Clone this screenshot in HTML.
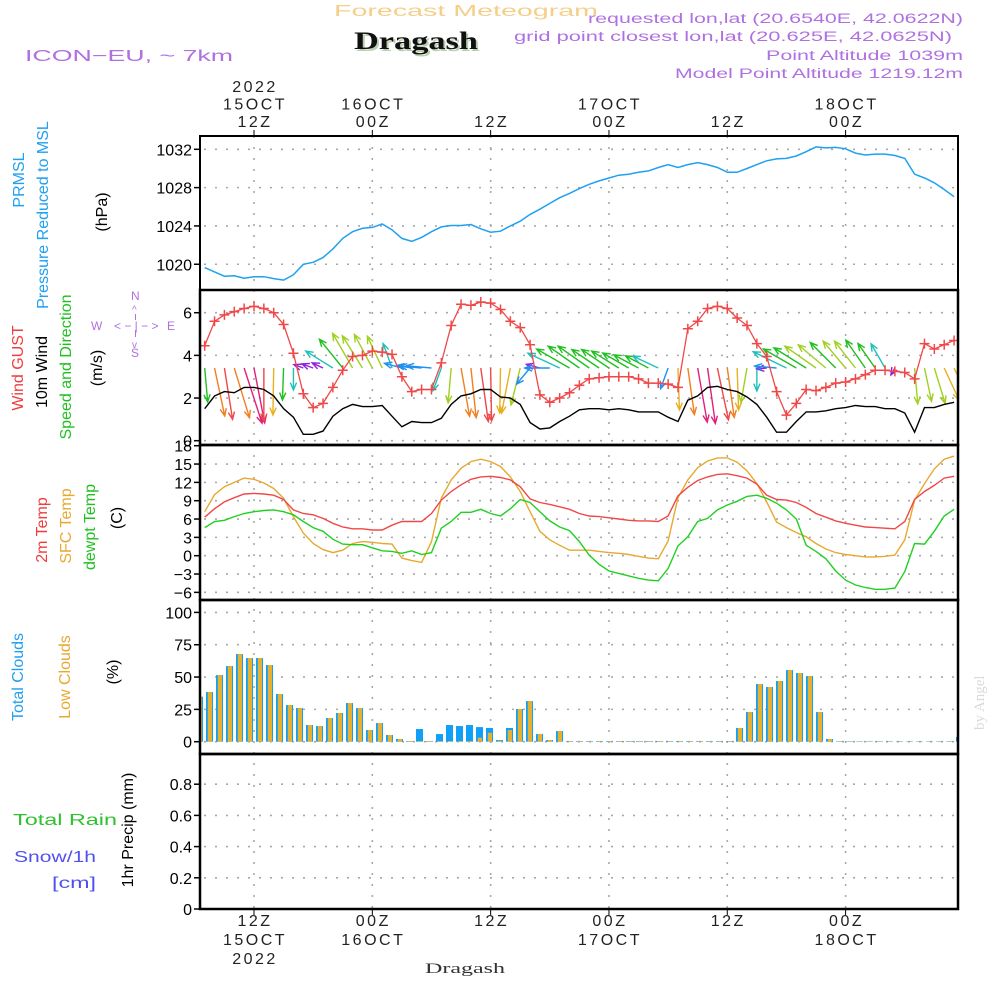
<!DOCTYPE html>
<html><head><meta charset="utf-8"><title>Meteogram Dragash</title>
<style>
html,body{margin:0;padding:0;background:#fff;}
svg{display:block;font-family:"Liberation Sans",sans-serif;}
</style></head>
<body>
<svg id="chart" width="1000" height="1000" viewBox="0 0 1000 1000" xmlns="http://www.w3.org/2000/svg">
<rect x="0" y="0" width="1000" height="1000" fill="#fff"/>
<text x="334" y="16" font-size="16" fill="#f5cf8a" textLength="264" lengthAdjust="spacingAndGlyphs">Forecast Meteogram</text>
<text x="356" y="51" font-size="25" font-weight="bold" font-family="Liberation Serif, serif" fill="#b8d0b0" textLength="124" lengthAdjust="spacingAndGlyphs">Dragash</text>
<text x="354" y="49" font-size="25" font-weight="bold" font-family="Liberation Serif, serif" fill="#111" textLength="124" lengthAdjust="spacingAndGlyphs">Dragash</text>
<text x="25" y="61" font-size="16" fill="#b070e0" textLength="208" lengthAdjust="spacingAndGlyphs">ICON−EU, ~ 7km</text>
<g fill="#b070e0" font-size="13.5">
<text x="588" y="23" textLength="375" lengthAdjust="spacingAndGlyphs">requested lon,lat (20.6540E, 42.0622N)</text>
<text x="514" y="41" textLength="438" lengthAdjust="spacingAndGlyphs">grid point closest lon,lat (20.625E, 42.0625N)</text>
<text x="766" y="60" textLength="197" lengthAdjust="spacingAndGlyphs">Point Altitude 1039m</text>
<text x="675" y="78" textLength="288" lengthAdjust="spacingAndGlyphs">Model Point Altitude 1219.12m</text>
</g>
<text transform="translate(984,730) rotate(-90)" font-size="15" font-family="Liberation Serif, serif" fill="#d8dcd8">by Angel</text>

<g font-size="16">
<text transform="translate(24,180) rotate(-90)" text-anchor="middle" fill="#20a0f0">PRMSL</text>
<text transform="translate(48,215) rotate(-90)" text-anchor="middle" fill="#20a0f0">Pressure Reduced to MSL</text>
<text transform="translate(107,212) rotate(-90)" text-anchor="middle" fill="#000">(hPa)</text>
<text transform="translate(23,368) rotate(-90)" text-anchor="middle" fill="#f03c3c">Wind GUST</text>
<text transform="translate(47,372) rotate(-90)" text-anchor="middle" fill="#000">10m Wind</text>
<text transform="translate(71,367) rotate(-90)" text-anchor="middle" fill="#20c020">Speed and Direction</text>
<text transform="translate(102,368) rotate(-90)" text-anchor="middle" fill="#000">(m/s)</text>
<text transform="translate(47,530) rotate(-90)" text-anchor="middle" fill="#f03c3c">2m Temp</text>
<text transform="translate(71,526) rotate(-90)" text-anchor="middle" fill="#e8a830">SFC Temp</text>
<text transform="translate(95,527) rotate(-90)" text-anchor="middle" fill="#20c020">dewpt Temp</text>
<text transform="translate(122,518) rotate(-90)" text-anchor="middle" fill="#000">(C)</text>
<text transform="translate(23,677) rotate(-90)" text-anchor="middle" fill="#20a0f0">Total Clouds</text>
<text transform="translate(70,677) rotate(-90)" text-anchor="middle" fill="#e8a830">Low Clouds</text>
<text transform="translate(118,672) rotate(-90)" text-anchor="middle" fill="#000">(%)</text>
<text x="13" y="825" fill="#30c030" textLength="104" lengthAdjust="spacingAndGlyphs">Total    Rain</text>
<text x="14" y="862" fill="#5050f0" textLength="82" lengthAdjust="spacingAndGlyphs">Snow/1h</text>
<text x="52" y="888" fill="#5050f0" textLength="44" lengthAdjust="spacingAndGlyphs">[cm]</text>
<text transform="translate(133,830) rotate(-90)" text-anchor="middle" fill="#000">1hr Precip (mm)</text>
</g>
<g fill="#b070e0" stroke="none" font-size="12">
<text x="131" y="300">N</text><text x="131" y="357">S</text>
<text x="91" y="330">W</text><text x="167" y="330">E</text>
<text x="114" y="330" font-size="12">&lt; − | − &gt;</text>
<text x="132" y="313" font-size="10">^</text><text x="132" y="348" font-size="10">v</text>
<line x1="135.5" y1="314" x2="135.5" y2="320" stroke="#b070e0"/><line x1="135.5" y1="330" x2="135.5" y2="337" stroke="#b070e0"/>
</g>
<g id="plots"></g>
<text x="425" y="973" font-size="15" font-family="Liberation Serif, serif" fill="#333" textLength="80" lengthAdjust="spacingAndGlyphs">Dragash</text>
</svg>
<script>
const hours = [];
for (let h = 7; h <= 83; h++) hours.push(h);
const pressure = [1019.65,1019.2,1018.75,1018.8,1018.55,1018.7,1018.7,1018.5,1018.35,1018.9,1020.0,1020.2,1020.7,1021.6,1022.7,1023.4,1023.75,1023.85,1024.2,1023.6,1022.7,1022.4,1022.8,1023.4,1023.9,1024.05,1024.05,1024.15,1023.7,1023.35,1023.45,1024.0,1024.5,1025.2,1025.75,1026.35,1026.95,1027.4,1027.9,1028.35,1028.7,1029.0,1029.3,1029.4,1029.6,1029.75,1030.1,1030.4,1030.1,1030.4,1030.6,1030.4,1030.1,1029.6,1029.6,1030.0,1030.4,1030.8,1031.0,1031.05,1031.3,1031.75,1032.25,1032.15,1032.2,1032.05,1031.6,1031.4,1031.5,1031.5,1031.35,1031.05,1029.4,1029.0,1028.5,1027.8,1027.05];
const gust = [4.45,5.6,5.9,6.05,6.2,6.3,6.2,6.0,5.45,4.1,2.2,1.55,1.75,2.5,3.3,3.95,4.0,4.2,4.15,4.05,3.0,2.3,2.4,2.4,3.65,5.4,6.4,6.35,6.5,6.45,6.15,5.6,5.3,4.5,2.15,1.8,2.0,2.25,2.6,2.9,2.95,3.0,3.0,3.0,2.9,2.7,2.7,2.65,2.5,5.25,5.6,6.2,6.3,6.2,5.75,5.4,4.55,3.95,2.3,1.2,1.75,2.4,2.35,2.5,2.7,2.75,2.9,3.1,3.3,3.3,3.25,3.2,2.9,4.55,4.3,4.5,4.7];
const wind10m = [1.5,2.1,2.3,2.25,2.5,2.5,2.4,2.1,1.5,1.1,0.3,0.3,0.45,1.15,1.5,1.7,1.6,1.6,1.65,1.15,0.65,0.9,0.85,0.85,1.05,1.7,2.1,2.2,2.4,2.4,2.05,2.0,1.7,0.85,0.55,0.6,0.9,1.15,1.45,1.5,1.5,1.45,1.5,1.45,1.35,1.35,1.35,1.1,0.9,1.9,2.1,2.5,2.55,2.4,2.3,2.05,1.7,1.1,0.4,0.4,0.9,1.35,1.35,1.4,1.5,1.55,1.65,1.6,1.6,1.5,1.5,1.3,0.4,1.55,1.55,1.7,1.8];
const windDir = [175,168,171,163,162,169,180,181,182,180,290,290,295,302,321,330,328,332,335,340,285,280,275,275,200,185,170,174,172,179,181,191,194,220,285,270,295,300,305,305,304,304,302,300,298,298,295,200,178,172,170,172,168,172,178,190,180,265,275,296,300,302,305,310,315,320,322,325,325,330,210,0,175,168,163,155,155];
const windLen = [34,49,52,52,58,56,53,47,32,22,10,12,12,32,37,40,38,38,35,26,18,15,22,25,24,35,49,50,54,53,45,46,38,21,14,25,35,38,38,38,33,33,32,30,28,26,28,22,42,47,55,56,53,50,42,35,23,10,22,37,38,38,38,36,36,35,34,34,30,28,8,0,36,34,37,35,33];
const windCol = ["g","o","r","o","m","m","r","y","g","c","p","p","p","c","g","l","l","l","l","c","b","b","b","b","c","l","o","o","r","r","y","y","l","b","p","b","c","g","g","g","g","g","g","g","g","g","c","b","y","o","m","m","r","o","y","l","c","p","b","c","g","g","l","l","g","l","l","g","g","c","p","g","l","l","l","y","y"];
const temp2m = [6.3,7.7,8.8,9.5,10.1,10.2,10.1,9.9,9.2,7.5,6.9,6.7,6.1,5.3,4.7,4.4,4.4,4.2,4.2,5.0,5.6,5.6,5.6,6.9,9.1,10.5,11.6,12.5,12.9,13.0,12.8,12.4,11.3,9.3,8.7,8.4,8.0,7.6,6.9,6.5,6.4,6.2,6.0,5.8,5.7,5.7,5.6,6.5,9.8,11.2,12.3,12.9,13.3,13.4,13.1,12.7,11.7,9.9,9.2,9.1,8.7,7.9,6.9,6.3,5.7,5.3,5.0,4.7,4.6,4.5,4.4,5.6,9.2,10.5,11.5,12.7,13.0];
const sfcTemp = [7.2,10.0,11.3,12.0,12.7,12.5,11.9,11.0,9.4,6.4,3.7,2.0,1.0,0.5,0.9,2.0,2.3,2.2,2.0,1.9,-0.4,-0.8,-1.1,2.3,9.4,12.4,14.3,15.4,15.8,15.4,14.6,12.9,10.5,7.2,4.0,2.6,1.7,0.9,0.9,0.9,0.7,0.5,0.4,0.2,-0.1,-0.4,-0.5,2.4,9.5,12.4,14.4,15.5,16.0,16.0,15.3,13.9,11.8,8.8,5.5,4.6,3.8,3.1,2.0,1.1,0.5,0.2,0.0,-0.2,-0.2,-0.1,0.1,2.6,9.1,11.8,14.2,15.8,16.3];
const dewpt = [4.6,5.6,5.8,6.4,6.9,7.2,7.4,7.5,7.2,6.7,5.6,4.6,4.0,2.7,1.9,1.8,1.8,1.3,0.8,0.7,0.4,0.8,0.2,0.5,4.5,5.6,7.1,7.1,7.6,6.9,6.5,7.7,9.2,8.7,7.2,5.7,4.7,4.1,2.3,0.1,-1.4,-2.5,-2.9,-3.3,-3.7,-4.0,-4.1,-2.1,1.6,3.1,5.6,6.1,7.5,8.3,8.9,9.7,9.9,9.4,8.6,7.5,6.0,1.7,0.7,-0.5,-2.5,-4.0,-4.8,-5.2,-5.5,-5.5,-5.3,-2.6,2.0,1.9,4.0,6.5,7.6];
const totalClouds = [34.8,38.4,51.5,58.5,67.8,64.7,64.7,59.3,36.9,28.4,26.0,12.9,12.1,18.3,22.2,29.9,26.0,9.0,14.4,5.2,2.1,0.5,9.8,0.5,5.9,12.9,12.1,12.9,11.3,10.6,1.3,10.6,25.3,31.4,5.9,1.3,8.2,0.5,0.5,0.5,0.5,0.5,0.5,0.5,0.5,0.5,0.5,0.5,0.5,0.5,0.5,0.5,0.5,0.5,10.6,22.9,44.6,42.3,46.9,55.4,53.1,50.8,22.9,2.1,0.3,0.3,0.3,0.3,0.3,0.3,0.3,0.3,0.3,0.3,0.3,0.3,3.6];
const lowClouds = [34.8,38.4,51.5,58.5,67.8,64.7,64.7,59.3,36.9,28.4,26.0,12.9,12.1,18.3,22.2,29.9,26.0,9.0,14.4,5.2,2.1,0.5,0.5,0.5,0.5,0.5,0.5,0.5,3.1,6.9,0.8,9.0,25.3,31.4,5.9,1.3,8.2,0.5,0.5,0.5,0.5,0.5,0.5,0.5,0.5,0.5,0.5,0.5,0.5,0.5,0.5,0.5,0.5,0.5,10.6,22.9,44.6,42.3,46.9,55.4,53.1,50.8,22.9,2.1,0.3,0.3,0.3,0.3,0.3,0.3,0.3,0.3,0.3,0.3,0.3,0.3,3.6];
const precip = hours.map(() => 0);
const pTicks = [1020,1024,1028,1032];
const windTicks = [0,2,4,6];
const tempTicks = [-6,-3,0,3,6,9,12,15,18];
const cloudTicks = [0,25,50,75,100];
const precipTicks = [0,0.2,0.4,0.6,0.8];
const timeTicks = [12,24,36,48,60,72];
const topLabels = [["2022","15OCT","12Z"],["16OCT","00Z"],["12Z"],["17OCT","00Z"],["12Z"],["18OCT","00Z"]];
const bottomLabels = [["12Z","15OCT","2022"],["00Z","16OCT"],["12Z"],["00Z","17OCT"],["12Z"],["00Z","18OCT"]];

const L = 200, R = 958;
const xH = h => 254 + (h - 12) * 9.86;
const xBar = i => 199.5 + 10 * i;
const yP = p => 149.3 + (1032 - p) * 9.58;
const yW = v => 440.7 - v * 21.33;
const yT = t => 555.7 - t * 6.11;
const yC = c => 741.7 - c * 1.293;
const yR = r => 909 - r * 156;
const panels = [[136,290],[290,445],[445,600],[600,754],[754,909]];
const colMap = {g:"#20c020",o:"#f08020",r:"#f04848",m:"#e0207a",y:"#e8b020",c:"#20c0b8",p:"#9020e0",b:"#2090f0",l:"#a0d020"};

const NS = "http://www.w3.org/2000/svg";
const root = document.getElementById("plots");
function mk(tag, attrs, parent) {
  const e = document.createElementNS(NS, tag);
  for (const k in attrs) e.setAttribute(k, attrs[k]);
  (parent || root).appendChild(e);
  return e;
}
function pathFrom(vals, yf) {
  return vals.map((v, i) => (i ? "L" : "M") + xH(hours[i]).toFixed(1) + "," + yf(v).toFixed(1)).join("");
}

const defs = mk("defs", {});
panels.forEach((p, i) => {
  const cp = mk("clipPath", {id: "clip" + i}, defs);
  mk("rect", {x: L, y: p[0], width: R - L, height: p[1] - p[0]}, cp);
});

const grid = mk("g", {stroke: "#a8a8a8", "stroke-width": 1.6, "stroke-dasharray": "2,9"});


timeTicks.forEach(h => mk("line", {x1: xH(h), x2: xH(h), y1: 136, y2: 909}, grid));
function hgrid(ticks, yf, lo, hi, fmt, name) {
  const g = mk("g", {});
  
  
  ticks.forEach(t => {
    const y = yf(t);
    if (y > lo + 2 && y < hi - 2) mk("line", {x1: L + 4, x2: R, y1: y, y2: y, stroke: "#a8a8a8", "stroke-width": 1.6, "stroke-dasharray": "2,9"}, g);
    mk("line", {x1: L - 6, x2: L, y1: y, y2: y, stroke: "#000", "stroke-width": 1.5}, g);
    const tx = mk("text", {x: L - 8, y: y + 6, "text-anchor": "end", "font-size": 16, fill: "#000"}, g);
    tx.textContent = fmt(t);
  });
}
hgrid(pTicks, yP, 136, 290, t => t, "pressure-y-axis");
hgrid(windTicks, yW, 290, 445, t => t, "wind-y-axis");
hgrid(tempTicks, yT, 445, 600, t => (t < 0 ? "−" + (-t) : t), "temp-y-axis");
hgrid(cloudTicks, yC, 600, 754, t => t, "cloud-y-axis");
hgrid(precipTicks, yR, 754, 909, t => t, "precip-y-axis");

const tl = mk("g", {"font-size": 16, fill: "#222", "text-anchor": "middle"});


timeTicks.forEach((h, i) => {
  const x = xH(h);
  mk("line", {x1: x, x2: x, y1: 130, y2: 136, stroke: "#000"}, tl);
  mk("line", {x1: x, x2: x, y1: 909, y2: 915, stroke: "#000"}, tl);
  const top = topLabels[i];
  top.forEach((s, j) => {
    const t = mk("text", {x: x + 1, y: 127 - (top.length - 1 - j) * 17.5, "letter-spacing": 2.5}, tl);
    t.textContent = s;
  });
  bottomLabels[i].forEach((s, j) => {
    const t = mk("text", {x: x + 1, y: 926 + j * 19, "letter-spacing": 2.5}, tl);
    t.textContent = s;
  });
});

const pl = mk("path", {d: pathFrom(pressure, yP), fill: "none", stroke: "#20a0f0", "stroke-width": 1.5, "clip-path": "url(#clip0)"});



const wa = mk("g", {"clip-path": "url(#clip1)", "stroke-width": 1.4, fill: "none"});


hours.forEach((h, i) => {
  const len = windLen[i];
  if (!len) return;
  const a = windDir[i] * Math.PI / 180;
  const x0 = xH(h), y0 = 368;
  const x1 = x0 + len * Math.sin(a), y1 = y0 - len * Math.cos(a);
  const c = colMap[windCol[i]];
  const hl = 8, sp = 0.4;
  const hx1 = x1 - hl * Math.sin(a - sp), hy1 = y1 + hl * Math.cos(a - sp);
  const hx2 = x1 - hl * Math.sin(a + sp), hy2 = y1 + hl * Math.cos(a + sp);
  const ar = mk("path", {d: `M${x0},${y0}L${x1},${y1}M${hx1},${hy1}L${x1},${y1}L${hx2},${hy2}`, stroke: c}, wa);
  
  
});
const wl = mk("path", {d: pathFrom(wind10m, yW), fill: "none", stroke: "#000", "stroke-width": 1.4, "clip-path": "url(#clip1)"});


const gl = mk("path", {d: pathFrom(gust, yW), fill: "none", stroke: "#f04848", "stroke-width": 1.3, "clip-path": "url(#clip1)"});


const gm = mk("g", {stroke: "#f04848", "stroke-width": 1.5, "clip-path": "url(#clip1)"});


gust.forEach((v, i) => {
  const x = xH(hours[i]), y = yW(v);
  const m = mk("path", {d: `M${x-5},${y}H${x+5}M${x},${y-5}V${y+5}`}, gm);
  
  
});

[[sfcTemp, "#e8a830", "sfc-temp-line"], [temp2m, "#f04848", "temp-2m-line"], [dewpt, "#20d020", "dewpoint-line"]].forEach(s => {
  const p = mk("path", {d: pathFrom(s[0], yT), fill: "none", stroke: s[1], "stroke-width": 1.4, "clip-path": "url(#clip2)"});
  
  
});

const cb = mk("g", {"clip-path": "url(#clip3)"});


totalClouds.forEach((v, i) => {
  const cx = xBar(i);
  const b = mk("rect", {x: cx - 3.5, y: yC(v), width: 7, height: yC(0) - yC(v), fill: "#10a0f8"}, cb);
  
  
  const lv = lowClouds[i];
  const b2 = mk("rect", {x: cx - 1.7, y: yC(lv), width: 4.2, height: yC(0) - yC(lv), fill: "#e8b030"}, cb);
  
  
});

const pr = mk("path", {d: pathFrom(precip, yR), fill: "none", stroke: "#000", "stroke-width": 2, "stroke-dasharray": "6,4"});



panels.forEach((p, i) => {
  const r = mk("rect", {x: L, y: p[0], width: R - L, height: p[1] - p[0], fill: "none", stroke: "#000", "stroke-width": i ? 2.5 : 2});
  
  
});
</script>
</body></html>
